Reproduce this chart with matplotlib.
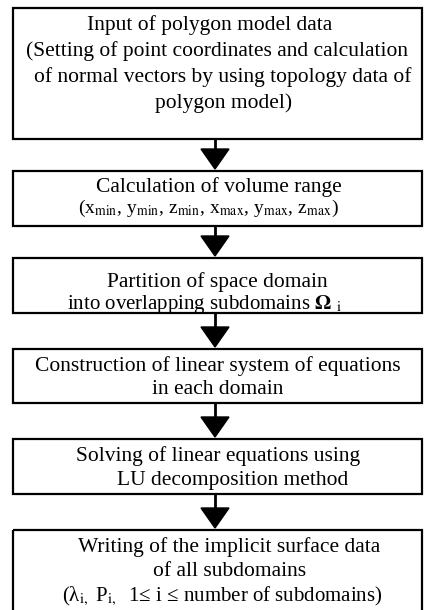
import matplotlib.pyplot as plt
from matplotlib.patches import Rectangle, Polygon

plt.rcParams['font.family'] = ['Liberation Serif', 'DejaVu Serif']
plt.rcParams['mathtext.fontset'] = 'stix'

# Flowchart steps (text lines of each box)
steps = [
    ["Input of polygon model data",
     "(Setting of point coordinates and calculation",
     "of normal vectors by using topology data of",
     "polygon model)"],
    ["Calculation of volume range",
     r"(x$_{\mathrm{min}}$, y$_{\mathrm{min}}$, z$_{\mathrm{min}}$, "
     r"x$_{\mathrm{max}}$, y$_{\mathrm{max}}$, z$_{\mathrm{max}}$)"],
    ["Partition of space domain",
     r"into overlapping subdomains $\mathbf{\Omega}$ $_{\mathrm{i}}$"],
    ["Construction of linear system of equations",
     "in each domain"],
    ["Solving of linear equations using",
     "LU decomposition method"],
    ["Writing of the implicit surface data",
     "of all subdomains",
     r"(λ$_{\mathrm{i},}$ P$_{\mathrm{i},}$  1≤ i ≤ number of subdomains)"],
]

# Layout in pixels
box_left = 13
box_right = 422
box_top = [8, 171, 258, 349, 439, 530]
box_bottom = [139, 226, 313, 403, 494, 616]
line_y = [[25, 51, 77, 103], [187, 208], [282, 304], [366, 390], [456, 480], [547, 571, 596]]
line_x = [[210, 217, 223, 224], [219, 208], [217, 204], [218, 218], [218, 233], [229, 230, 222]]
line_size = [[15.5] * 4, [15.5, 14.0], [15.5, 15.0], [15.5] * 2, [15.5] * 2, [15.5, 15.5, 15.0]]
arrow_x = 215

fig = plt.figure(figsize=(4.26, 6.10), dpi=100)
ax = fig.add_axes([0, 0, 1, 1])
ax.set_xlim(0, 426)
ax.set_ylim(610, 0)
ax.axis('off')

for i, lines in enumerate(steps):
    ax.add_patch(Rectangle((box_left, box_top[i]), box_right - box_left,
                           box_bottom[i] - box_top[i], fill=False,
                           edgecolor='black', linewidth=1.6))
    for txt, x, y, fs in zip(lines, line_x[i], line_y[i], line_size[i]):
        ax.text(x, y, txt, ha='center', va='center', fontsize=fs, color='black')

# Arrows between boxes
head_h, head_w = 20, 28
for i in range(len(steps) - 1):
    y0 = box_bottom[i]
    tip = box_top[i + 1] - 2
    ax.plot([arrow_x, arrow_x], [y0, tip - head_h], color='black', linewidth=2)
    ax.add_patch(Polygon([[arrow_x - head_w / 2, tip - head_h],
                          [arrow_x + head_w / 2, tip - head_h],
                          [arrow_x, tip]], closed=True, color='black'))

fig.savefig('out.png', dpi=100)
